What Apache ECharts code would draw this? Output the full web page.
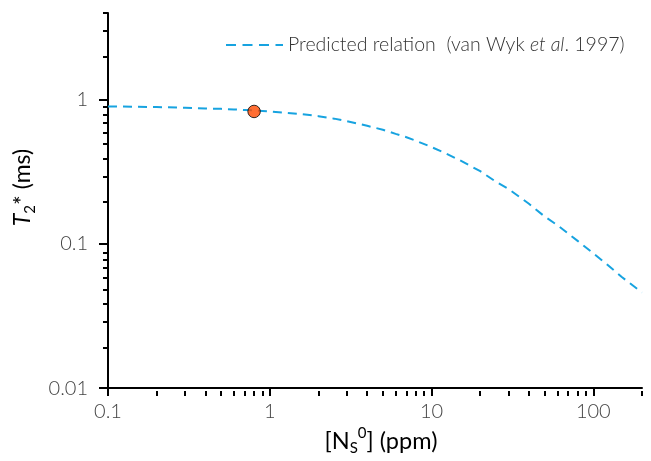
<!DOCTYPE html>
<html>
<head>
<meta charset="utf-8">
<script src="https://cdn.jsdelivr.net/npm/echarts@6/dist/echarts.min.js"></script>
<style>
  html, body { margin: 0; padding: 0; background: #fff; }
  #chart { width: 651px; height: 461px; }
</style>
</head>
<body>
<div id="chart"></div>
<script>
// ---- data ----
const nsPpm = [0.1, 0.2, 0.3, 0.4, 0.5, 0.6, 0.7, 0.8, 1, 1.5, 2, 2.5, 3, 4, 5, 6, 7, 8, 10, 12, 15, 20, 25, 30, 40, 50, 60, 70, 80, 100, 120, 150, 200];
const t2Predicted = [0.90, 0.89, 0.88, 0.87, 0.865, 0.857, 0.85, 0.843, 0.83, 0.80, 0.77, 0.74, 0.71, 0.66, 0.62, 0.58, 0.55, 0.52, 0.47, 0.43, 0.38, 0.32, 0.27, 0.24, 0.19, 0.155, 0.135, 0.118, 0.105, 0.086, 0.073, 0.059, 0.046];
const measuredNs = [0.8];
const measuredT2 = [0.83];

const xMajorTicks = [0.1, 1, 10, 100];
const xMajorLabels = ['0.1', '1', '10', '100'];
const xMinorTicks = [0.2, 0.3, 0.4, 0.5, 0.6, 0.7, 0.8, 0.9, 2, 3, 4, 5, 6, 7, 8, 9, 20, 30, 40, 50, 60, 70, 80, 90, 200];
const yMajorTicks = [0.01, 0.1, 1];
const yMajorLabels = ['0.01', '0.1', '1'];
const yMinorTicks = [0.02, 0.03, 0.04, 0.05, 0.06, 0.07, 0.08, 0.09, 0.2, 0.3, 0.4, 0.5, 0.6, 0.7, 0.8, 0.9, 2, 3, 4];

const xMin = 0.1, xMax = 200, yMin = 0.01, yMax = 4;
const legendName = 'Predicted relation';

// ---- chart ----
const FONT = 'Lato';
const LINE_BLUE = '#17a3e0';
const chart = echarts.init(document.getElementById('chart'), null, { renderer: 'canvas' });

function labelFrom(ticks, labels) {
  return function (v) {
    for (let i = 0; i < ticks.length; i++) {
      if (Math.abs(Math.log10(v) - Math.log10(ticks[i])) < 1e-6) return labels[i];
    }
    return '';
  };
}

const gridBox = { left: 108, right: 9, top: 13, bottom: 70, containLabel: false };
// dashed legend glyph (4 dashes)
const dashIcon = 'path://M0,0h10v2h-10z M16.5,0h10v2h-10z M33,0h10v2h-10z M49.5,0h7.5v2h-7.5z';

const option = {
  animation: false,
  backgroundColor: '#ffffff',
  grid: [Object.assign({}, gridBox), Object.assign({}, gridBox)],
  legend: {
    data: [{ name: legendName, icon: dashIcon, itemStyle: { color: LINE_BLUE } }],
    left: 221,
    top: 30,
    itemWidth: 57,
    itemHeight: 14,
    selectedMode: false,
    formatter: function () {
      return '{n|Predicted relation  (van Wyk }{i|et al}{n|. 1997)}';
    },
    textStyle: {
      rich: {
        n: { fontFamily: FONT, fontSize: 19.5, fontWeight: 300, color: '#333' },
        i: { fontFamily: FONT, fontSize: 19.5, fontWeight: 300, fontStyle: 'italic', color: '#333' }
      }
    }
  },
  xAxis: [
    {
      type: 'log', logBase: 10, gridIndex: 0, min: xMin, max: xMax, position: 'bottom',
      axisLine: { show: true, lineStyle: { color: '#000', width: 2 } },
      axisTick: { show: true, inside: false, length: 8, lineStyle: { color: '#000', width: 2 }, customValues: xMajorTicks },
      axisLabel: {
        show: true, customValues: xMajorTicks, formatter: labelFrom(xMajorTicks, xMajorLabels),
        fontFamily: FONT, fontSize: 20, fontWeight: 300, color: '#444', margin: 13
      },
      splitLine: { show: false },
      minorTick: { show: false },
      name: '{n|[N}{sub|S}{sup|0}{n|] (ppm)}',
      nameLocation: 'middle',
      nameGap: 33,
      nameTextStyle: {
        padding: [0, 0, 0, 12],
        rich: {
          n: { fontFamily: FONT, fontSize: 23.5, color: '#000', lineHeight: 30 },
          sub: { fontFamily: FONT, fontSize: 15, color: '#000', lineHeight: 11, verticalAlign: 'bottom' },
          sup: { fontFamily: FONT, fontSize: 15, color: '#000', lineHeight: 14, verticalAlign: 'top' }
        }
      }
    },
    {
      type: 'log', logBase: 10, gridIndex: 1, min: xMin, max: xMax, position: 'bottom',
      axisLine: { show: true, lineStyle: { color: 'rgba(0,0,0,0)', width: 2 } },
      axisTick: { show: true, inside: false, length: 5, lineStyle: { color: '#000', width: 2 }, customValues: xMinorTicks },
      axisLabel: { show: false },
      splitLine: { show: false }
    }
  ],
  yAxis: [
    {
      type: 'log', logBase: 10, gridIndex: 0, min: yMin, max: yMax, position: 'left',
      axisLine: { show: true, lineStyle: { color: '#000', width: 2 } },
      axisTick: { show: true, inside: false, length: 9, lineStyle: { color: '#000', width: 2 }, customValues: yMajorTicks },
      axisLabel: {
        show: true, customValues: yMajorTicks, formatter: labelFrom(yMajorTicks, yMajorLabels),
        fontFamily: FONT, fontSize: 20, fontWeight: 300, color: '#444', margin: 20
      },
      splitLine: { show: false },
      minorTick: { show: false },
      name: '{i|T}{sub|2}{n|* (ms)}',
      nameLocation: 'middle',
      nameRotate: 90,
      nameGap: 60,
      nameTextStyle: {
        padding: [0, 0, 0, 26],
        rich: {
          n: { fontFamily: FONT, fontSize: 23, color: '#000', lineHeight: 30 },
          i: { fontFamily: FONT, fontSize: 23, color: '#000', fontStyle: 'italic', lineHeight: 30 },
          sub: { fontFamily: FONT, fontSize: 15, color: '#000', lineHeight: 11, verticalAlign: 'bottom' }
        }
      }
    },
    {
      type: 'log', logBase: 10, gridIndex: 1, min: yMin, max: yMax, position: 'left',
      axisLine: { show: true, lineStyle: { color: 'rgba(0,0,0,0)', width: 2 } },
      axisTick: { show: true, inside: false, length: 5, lineStyle: { color: '#000', width: 2 }, customValues: yMinorTicks },
      axisLabel: { show: false },
      splitLine: { show: false }
    }
  ],
  series: [
    {
      name: legendName,
      type: 'line',
      xAxisIndex: 0, yAxisIndex: 0,
      data: nsPpm.map((x, i) => [x, t2Predicted[i]]),
      smooth: false,
      symbol: 'none',
      showSymbol: false,
      lineStyle: { color: LINE_BLUE, width: 2, type: [9, 6] },
      itemStyle: { color: LINE_BLUE },
      z: 2
    },
    {
      name: 'measured',
      type: 'scatter',
      xAxisIndex: 0, yAxisIndex: 0,
      data: measuredNs.map((x, i) => [x, measuredT2[i]]),
      symbol: 'circle',
      symbolSize: 12.5,
      itemStyle: { color: '#ff4a00', borderColor: '#000', borderWidth: 1 },
      z: 5
    }
  ]
};
chart.setOption(option);
</script>
</body>
</html>
